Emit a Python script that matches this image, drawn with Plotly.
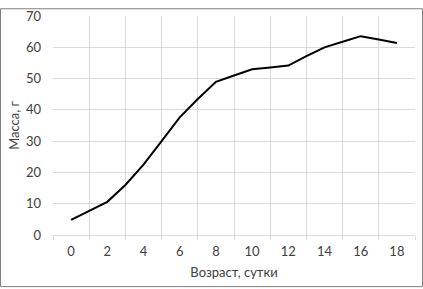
import plotly.graph_objects as go

days = list(range(0, 19))
mass = [4.8, 7.8, 10.6, 16.0, 22.5, 30.0, 37.6, 43.5, 49.0, 51.0, 53.0, 53.6, 54.2, 57.2, 60.0, 61.8, 63.6, 62.5, 61.4]
x_ticks = [0, 2, 4, 6, 8, 10, 12, 14, 16, 18]
y_ticks = [0, 10, 20, 30, 40, 50, 60, 70]

W, H = 423, 289
ml, mr, mt, mb = 53, 8, 8, 54
pw, ph = W - ml - mr, H - mt - mb

font = "Lato, Carlito, 'Open Sans', sans-serif"

fig = go.Figure()
fig.add_trace(go.Scatter(x=days, y=mass, mode="lines",
                         line=dict(color="black", width=2), hoverinfo="skip"))

fig.update_layout(
    width=W, height=H,
    margin=dict(l=ml, r=mr, t=mt, b=mb),
    paper_bgcolor="white", plot_bgcolor="white",
    showlegend=False,
    font=dict(family=font, size=13, color="#404040"),
    xaxis=dict(range=[-1, 19], tickvals=x_ticks, ticktext=[str(v) for v in x_ticks],
               showgrid=False, zeroline=False, showline=True, linecolor="#d9d9d9", linewidth=1,
               ticks="", ticklabelstandoff=4,
               minor=dict(tickvals=list(range(-1, 20, 2)), showgrid=True, gridcolor="#d9d9d9",
                          gridwidth=1, ticks="outside", ticklen=4, tickcolor="#d9d9d9"),
               title=dict(text="Возраст, сутки", font=dict(size=13, color="#404040"), standoff=10),
               fixedrange=True),
    yaxis=dict(range=[-0.02, 70.05], tickvals=y_ticks, showgrid=True, gridcolor="#d9d9d9", gridwidth=1,
               zeroline=False, showline=False, ticks="", ticklabelstandoff=11,
               ticklabeloverflow="allow",
               title=dict(text="Масса, г", font=dict(size=13, color="#404040"), standoff=3),
               fixedrange=True),
    shapes=[dict(type="rect", xref="paper", yref="paper",
                 x0=(-ml + 0.5) / pw, x1=(pw + mr - 0.5) / pw,
                 y0=(-mb + 0.5) / ph, y1=(ph + mt - 0.5) / ph,
                 line=dict(color="#808080", width=1), fillcolor="rgba(0,0,0,0)", layer="above")],
)

fig.write_html("out.html", config={"displayModeBar": False},
               post_script="document.body.style.margin='0';document.body.style.padding='0';")
